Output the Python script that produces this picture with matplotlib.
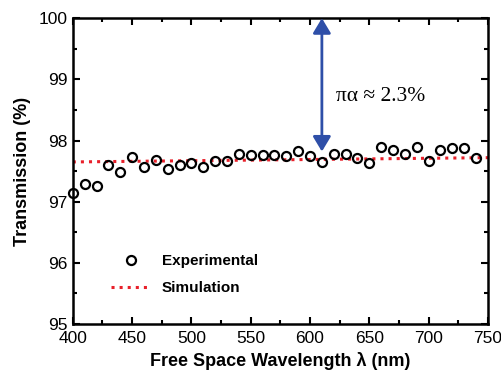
import matplotlib
matplotlib.use("Agg")
import matplotlib.pyplot as plt
import numpy as np

plt.rcParams['font.family'] = ['Liberation Sans', 'DejaVu Sans']

wavelength = [400, 410, 420, 430, 440, 450, 460, 470, 480, 490, 500, 510, 520, 530,
              540, 550, 560, 570, 580, 590, 600, 610, 620, 630, 640, 650, 660, 670,
              680, 690, 700, 710, 720, 730, 740]
transmission = [97.14, 97.29, 97.25, 97.60, 97.48, 97.73, 97.57, 97.68, 97.53, 97.60,
                97.63, 97.57, 97.66, 97.66, 97.78, 97.76, 97.76, 97.76, 97.75, 97.83,
                97.75, 97.65, 97.78, 97.78, 97.71, 97.63, 97.90, 97.84, 97.78, 97.89,
                97.66, 97.84, 97.87, 97.87, 97.71]
sim_x = [400, 750]
sim_y = [97.65, 97.72]

fig = plt.figure(figsize=(5.02, 3.79), dpi=100)
ax = fig.add_axes([0.145, 0.145, 0.827, 0.807])

ax.plot(wavelength, transmission, 'o', mfc='none', mec='black', mew=1.6, ms=6.5,
        label='Experimental', clip_on=False, zorder=3)
ax.plot(sim_x, sim_y, ':', color='#e8202a', lw=2.2, label='Simulation', zorder=2)

ax.annotate('', xy=(610, 97.82), xytext=(610, 100.0),
            arrowprops=dict(arrowstyle='<|-|>,head_length=0.5,head_width=0.3',
                            color='#2e4fa8', lw=2.0,
                            mutation_scale=18, shrinkA=0, shrinkB=0))
ax.text(622, 98.72, 'πα ≈ 2.3%', fontsize=15.5, family=['Liberation Serif', 'DejaVu Serif'],
        va='center', ha='left')

ax.set_xlim(400, 750)
ax.set_ylim(95, 100)
ax.set_xticks(np.arange(400, 751, 50))
ax.set_xticks(np.arange(425, 750, 50), minor=True)
ax.set_yticks(np.arange(95, 100.1, 1))
ax.set_yticks(np.arange(95.5, 100, 1), minor=True)
ax.tick_params(which='both', direction='in', top=True, right=True, width=1.5)
ax.tick_params(which='major', length=5, labelsize=12.5)
ax.tick_params(axis='x', which='major', pad=5)
ax.tick_params(which='minor', length=3)
for s in ax.spines.values():
    s.set_linewidth(1.8)

ax.set_xlabel('Free Space Wavelength λ (nm)', fontsize=13, fontweight='bold')
ax.set_ylabel('Transmission (%)', fontsize=13, fontweight='bold', labelpad=6)

leg = ax.legend(loc='lower left', bbox_to_anchor=(0.06, 0.05), frameon=False,
                prop={'weight': 'bold', 'size': 11}, handlelength=2.5,
                labelspacing=0.85)

fig.savefig('out.png', dpi=100)
